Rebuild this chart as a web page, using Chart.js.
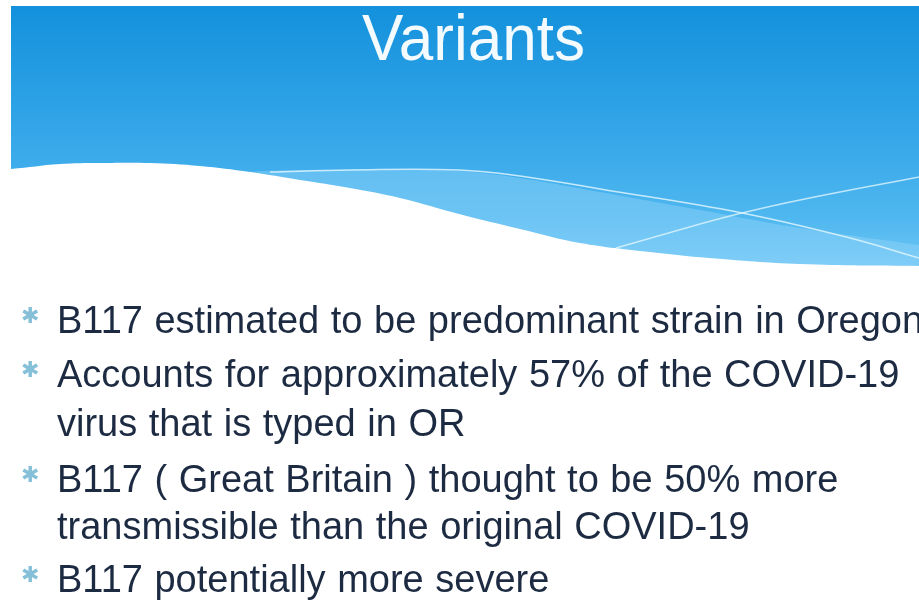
<!DOCTYPE html>
<html>
<head>
<meta charset="utf-8">
<script src="https://cdn.jsdelivr.net/npm/chart.js@4"></script>
<style>
  html, body { margin: 0; padding: 0; background: #fff; }
  #wrap { position: relative; width: 919px; height: 602px; overflow: hidden; }
  canvas { position: absolute; left: 0; top: 0; }
  .title {
    position: absolute; left: 0; width: 947px; top: 6px;
    text-align: center; color: #f4fbff;
    font-family: "Liberation Sans", Arial, sans-serif; font-size: 64px; line-height: 1;
    transform: scaleX(0.97); transform-origin: 473px 0;
  }
  .line {
    position: absolute; left: 57px; white-space: pre;
    color: #1d2b42; font-family: "Liberation Sans", Arial, sans-serif;
    font-size: 38px; line-height: 1; word-spacing: 1px;
  }
  .bullet {
    position: absolute; left: 21px; color: #86c0d8;
    font-family: "DejaVu Sans", sans-serif; font-size: 22px; line-height: 1;
  }
</style>
</head>
<body>
<div id="wrap">
  <canvas id="c" width="919" height="602"></canvas>
</div>
<script>
// slide content
const title = "Variants"
const lines = [
  "B117 estimated to be predominant strain in Oregon",
  "Accounts for approximately 57% of the COVID-19",
  "virus that is typed in OR",
  "B117 ( Great Britain ) thought to be 50% more",
  "transmissible than the original COVID-19",
  "B117 potentially more severe"
]
const bulletStarts = [true, true, false, true, false, true]
const baselines = [333, 387, 436, 492, 539, 592]

// background wave shapes (x, y in slide pixels, y down)
const waveX = [0, 11, 60, 100, 150, 200, 250, 300, 350, 400, 459, 520, 580, 650, 709, 800, 919]
const waveY = [169, 169, 164, 163, 163, 166, 172, 180, 188, 198, 214, 229, 243, 252, 258, 264, 266]
const bandX = [240, 300, 400, 459, 520, 600, 700, 800, 919]
const bandY = [172, 170, 170, 171, 178, 192, 210, 228, 245]
const streak1X = [270, 350, 459, 520, 600, 742, 850, 919]
const streak1Y = [172, 170, 170, 176, 189, 213, 238, 258]
const streak2X = [616, 700, 742, 800, 919]
const streak2Y = [248, 224, 213, 200, 177]

const pts = (xs, ys) => xs.map((x, i) => ({ x: x, y: ys[i] }))

const slideBg = {
  id: 'slideBg',
  beforeDraw(chart) {
    const ctx = chart.ctx
    const g = ctx.createLinearGradient(0, 6, 0, 270)
    g.addColorStop(0, '#1391dc')
    g.addColorStop(0.5, '#36a7e9')
    g.addColorStop(0.8, '#4fb7ef')
    g.addColorStop(1, '#70c7f5')
    ctx.save()
    ctx.fillStyle = g
    ctx.fillRect(11, 6, 908, 270)
    ctx.restore()
  }
}

// first dataset is painted on top
new Chart(document.getElementById('c'), {
  type: 'scatter',
  data: {
    datasets: [
      {
        data: pts(waveX, waveY), showLine: true, pointRadius: 0, borderWidth: 0,
        tension: 0.4, fill: { value: 602 }, backgroundColor: '#ffffff'
      },
      {
        data: pts(streak1X, streak1Y), showLine: true, pointRadius: 0, borderWidth: 1.5,
        tension: 0.4, borderColor: 'rgba(230,248,255,0.8)', fill: false
      },
      {
        data: pts(streak2X, streak2Y), showLine: true, pointRadius: 0, borderWidth: 1.5,
        tension: 0.4, borderColor: 'rgba(230,248,255,0.75)', fill: false
      },
      {
        data: pts(bandX, bandY), showLine: true, pointRadius: 0, borderWidth: 0,
        tension: 0.4, fill: { value: 602 }, backgroundColor: 'rgba(150,215,250,0.42)'
      }
    ]
  },
  options: {
    responsive: false,
    animation: false,
    layout: { padding: 0 },
    plugins: { legend: { display: false }, tooltip: { enabled: false } },
    scales: {
      x: { type: 'linear', min: 0, max: 919, display: false },
      y: { type: 'linear', min: 0, max: 602, reverse: true, display: false }
    }
  },
  plugins: [slideBg]
})

// text layer
const wrap = document.getElementById('wrap')
const t = document.createElement('div')
t.className = 'title'
t.textContent = title
wrap.appendChild(t)
lines.forEach((s, i) => {
  const d = document.createElement('div')
  d.className = 'line'
  d.style.top = (baselines[i] - 32) + 'px'
  d.textContent = s
  wrap.appendChild(d)
  if (bulletStarts[i]) {
    const b = document.createElement('div')
    b.className = 'bullet'
    b.style.top = (baselines[i] - 28) + 'px'
    b.textContent = '\u2731'
    wrap.appendChild(b)
  }
})
</script>
</body>
</html>
